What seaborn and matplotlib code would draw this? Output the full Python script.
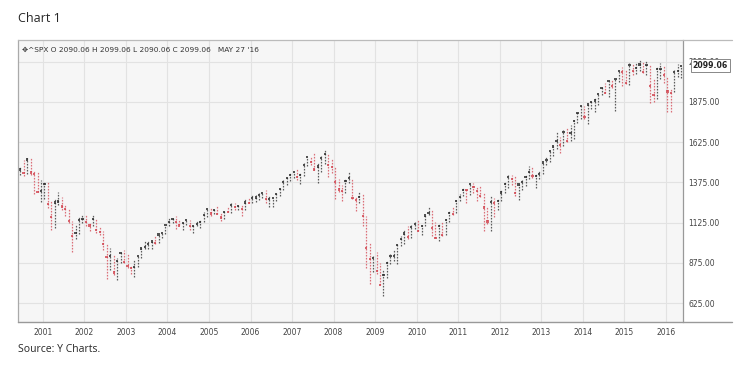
import numpy as np
import pandas as pd
import matplotlib
matplotlib.use("Agg")
import matplotlib.pyplot as plt
import matplotlib.dates as mdates
from matplotlib.lines import Line2D
import seaborn as sns

# ------------------------------------------------------------------
# monthly S&P 500 bars, Jun 2000 .. May 2016
# ------------------------------------------------------------------
close = [
    1454.6, 1430.8, 1517.7, 1436.5, 1429.4, 1315.2, 1320.3,
    1366.0, 1239.9, 1160.3, 1249.5, 1255.8, 1224.4, 1211.2, 1133.6, 1040.9, 1059.8, 1139.5, 1148.1,
    1130.2, 1106.7, 1147.4, 1076.9, 1067.1, 989.8, 911.6, 916.1, 815.3, 885.8, 936.3, 879.8,
    855.7, 841.2, 848.2, 916.9, 963.6, 974.5, 990.3, 1008.0, 996.0, 1050.7, 1058.2, 1111.9,
    1131.1, 1144.9, 1126.2, 1107.3, 1120.7, 1140.8, 1101.7, 1104.2, 1114.6, 1130.2, 1173.8, 1211.9,
    1181.3, 1203.6, 1180.6, 1156.9, 1191.5, 1191.3, 1234.2, 1220.3, 1228.8, 1207.0, 1249.5, 1248.3,
    1280.1, 1280.7, 1294.8, 1310.6, 1270.1, 1270.2, 1276.7, 1303.8, 1335.9, 1377.9, 1400.6, 1418.3,
    1438.2, 1406.8, 1420.9, 1482.4, 1530.6, 1503.4, 1455.3, 1474.0, 1526.8, 1549.4, 1481.1, 1468.4,
    1378.6, 1330.6, 1322.7, 1385.6, 1400.4, 1280.0, 1267.4, 1282.8, 1166.4, 968.8, 896.2, 903.3,
    825.9, 735.1, 797.9, 872.8, 919.1, 919.3, 987.5, 1020.6, 1057.1, 1036.2, 1095.6, 1115.1,
    1073.9, 1104.5, 1169.4, 1186.7, 1089.4, 1030.7, 1101.6, 1049.3, 1141.2, 1183.3, 1180.6, 1257.6,
    1286.1, 1327.2, 1325.8, 1363.6, 1345.2, 1320.6, 1292.3, 1218.9, 1131.4, 1253.3, 1247.0, 1257.6,
    1312.4, 1365.7, 1408.5, 1397.9, 1310.3, 1362.2, 1379.3, 1406.6, 1440.7, 1412.2, 1416.2, 1426.2,
    1498.1, 1514.7, 1569.2, 1597.6, 1630.7, 1606.3, 1685.7, 1633.0, 1681.6, 1756.5, 1805.8, 1848.4,
    1782.6, 1859.5, 1872.3, 1883.9, 1923.6, 1960.2, 1930.7, 2003.4, 1972.3, 2018.1, 2067.6, 2058.9,
    1995.0, 2104.5, 2067.9, 2085.5, 2107.4, 2063.1, 2103.8, 1972.2, 1920.0, 2079.4, 2080.4, 2043.9,
    1940.2, 1932.2, 2059.7, 2065.3, 2099.06,
]
high = [
    1477, 1517, 1525, 1530, 1454, 1438, 1390,
    1383, 1376, 1263, 1269, 1316, 1287, 1239, 1218, 1135, 1110, 1160, 1173,
    1176, 1131, 1173, 1147, 1106, 1070, 994, 965, 925, 907, 951, 954,
    935, 864, 895, 919, 965, 1015, 1015, 1011, 1040, 1054, 1063, 1112,
    1156, 1159, 1163, 1150, 1128, 1146, 1141, 1109, 1132, 1142, 1188, 1218,
    1217, 1212, 1229, 1192, 1200, 1219, 1246, 1245, 1243, 1233, 1270, 1275,
    1295, 1297, 1310, 1318, 1326, 1290, 1280, 1306, 1340, 1389, 1407, 1431,
    1441, 1461, 1438, 1498, 1535, 1540, 1556, 1503, 1539, 1576, 1552, 1523,
    1471, 1396, 1359, 1397, 1441, 1405, 1292, 1314, 1303, 1167, 1007, 918,
    943, 876, 832, 888, 930, 956, 996, 1039, 1080, 1101, 1113, 1130,
    1150, 1112, 1180, 1220, 1206, 1131, 1120, 1129, 1148, 1196, 1228, 1263,
    1302, 1344, 1333, 1364, 1371, 1346, 1357, 1307, 1230, 1293, 1277, 1270,
    1334, 1378, 1420, 1422, 1415, 1363, 1392, 1427, 1475, 1470, 1434, 1448,
    1504, 1531, 1570, 1598, 1687, 1655, 1698, 1710, 1730, 1765, 1814, 1849,
    1851, 1867, 1884, 1897, 1924, 1968, 1991, 2005, 2019, 2019, 2075, 2094,
    2072, 2119, 2118, 2126, 2135, 2129, 2133, 2113, 2021, 2094, 2117, 2105,
    2039, 1962, 2073, 2112, 2099,
]
low = [
    1420, 1413, 1425, 1420, 1305, 1313, 1254,
    1274, 1215, 1081, 1091, 1232, 1203, 1165, 1124, 945, 1026, 1054, 1124,
    1101, 1074, 1106, 1063, 1048, 953, 776, 833, 800, 768, 873, 872,
    840, 807, 789, 847, 902, 963, 962, 960, 990, 995, 1031, 1053,
    1106, 1124, 1087, 1107, 1076, 1113, 1078, 1060, 1102, 1090, 1127, 1162,
    1163, 1180, 1176, 1137, 1146, 1188, 1183, 1201, 1205, 1168, 1201, 1246,
    1245, 1253, 1268, 1280, 1245, 1219, 1224, 1260, 1290, 1327, 1360, 1385,
    1403, 1389, 1364, 1416, 1476, 1484, 1454, 1371, 1439, 1490, 1407, 1435,
    1270, 1317, 1257, 1311, 1373, 1272, 1200, 1248, 1106, 840, 741, 815,
    805, 734, 667, 783, 866, 888, 869, 979, 992, 1020, 1029, 1086,
    1071, 1045, 1105, 1170, 1040, 1029, 1011, 1040, 1048, 1131, 1173, 1186,
    1257, 1290, 1249, 1295, 1311, 1259, 1282, 1075, 1114, 1075, 1159, 1202,
    1258, 1312, 1341, 1358, 1292, 1267, 1325, 1355, 1396, 1404, 1343, 1398,
    1426, 1486, 1501, 1537, 1581, 1560, 1604, 1627, 1633, 1646, 1746, 1767,
    1771, 1737, 1834, 1814, 1859, 1915, 1930, 1904, 1964, 1821, 2001, 1972,
    1988, 1981, 2040, 2048, 2067, 2056, 2044, 1867, 1872, 1893, 2019, 1993,
    1812, 1810, 1937, 2033, 2025,
]
months = pd.date_range("2000-06-01", periods=len(close), freq="MS") + pd.Timedelta(days=14)

price_ticks = [625, 875, 1125, 1375, 1625, 1875, 2125]
header = "✥^SPX O 2090.06 H 2099.06 L 2090.06 C 2099.06   MAY 27 '16"
last_label = "2099.06"

df = pd.DataFrame({"date": months, "close": close, "high": high, "low": low})
df["dir"] = np.where(df["close"].diff().fillna(0) >= 0, "up", "down")

# ------------------------------------------------------------------
sns.set_style("whitegrid", {"axes.facecolor": "#f6f6f6", "grid.color": "#e2e2e2"})
plt.rcParams["font.family"] = ["DejaVu Sans"]

fig = plt.figure(figsize=(7.5, 3.77), dpi=100)
W, H = 750, 377
ax = fig.add_axes([18 / W, 1 - 322 / H, (683 - 18) / W, (322 - 40) / H])

colors = {"up": "#2a2a2a", "down": "#d2434f"}
for d, g in df.groupby("dir"):
    ax.vlines(g["date"], g["low"], g["high"], colors=colors[d], lw=0.9,
              linestyles=(0, (1.3, 1.1)), alpha=0.75)
sns.scatterplot(data=df, x="date", y="close", hue="dir", palette=colors,
                s=2.5, marker="s", linewidth=0, alpha=0.8, legend=False, ax=ax)

ax.set_xlim(pd.Timestamp("2000-05-27"), pd.Timestamp("2016-05-31"))
ax.set_ylim(507, 2260)
ax.set_yticks(price_ticks)
ax.set_yticklabels([f"{v:.2f}" for v in price_ticks])
ax.yaxis.tick_right()
ax.xaxis.set_major_locator(mdates.YearLocator())
ax.xaxis.set_major_formatter(mdates.DateFormatter("%Y"))
ax.tick_params(axis="both", labelsize=5.5, colors="#444444", length=0, pad=4)
ax.set_xlabel("")
ax.set_ylabel("")
ax.grid(True, lw=0.8)

ax.spines["top"].set_visible(False)
ax.spines["bottom"].set_visible(False)
ax.spines["left"].set_color("#aaaaaa")
ax.spines["left"].set_linewidth(0.9)
ax.spines["right"].set_color("#999999")
ax.spines["right"].set_linewidth(0.9)

# frame lines extending under the price axis
fig.add_artist(Line2D([18 / W, 732 / W], [1 - 40 / H, 1 - 40 / H], color="#bbbbbb", lw=0.9))
fig.add_artist(Line2D([18 / W, 732 / W], [1 - 322 / H, 1 - 322 / H], color="#999999", lw=1.0))

ax.text(0.006, 0.975, header, transform=ax.transAxes, fontsize=5.3, color="#333333",
        va="top", ha="left")

# last-price box sits over the top price label, as in the source chart
ax.annotate(last_label, xy=(1.0, close[-1]), xycoords=("axes fraction", "data"),
            xytext=(7, 0), textcoords="offset points", fontsize=5.6, fontweight="bold",
            color="#222222", va="center", ha="left", zorder=10,
            bbox=dict(boxstyle="square,pad=0.25", fc="white", ec="#888888", lw=0.7),
            annotation_clip=False)

fig.text(18 / W, 1 - 18 / H, "Chart 1", fontsize=9, family="Open Sans", va="center", ha="left")
fig.text(18 / W, 1 - 350 / H, "Source: Y Charts.", fontsize=7.5, family="Open Sans",
         va="center", ha="left")

fig.savefig("out.png", dpi=100)
